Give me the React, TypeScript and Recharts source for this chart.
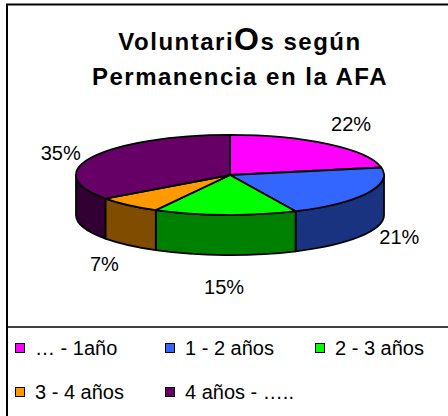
import React from 'react';
import { PieChart, Pie, Legend } from 'recharts';

const categories = ['… - 1año', '1 - 2 años', '2 - 3 años', '3 - 4 años', '4 años - …..'];
const values = [22, 21, 15, 7, 35];
const colors = ['#FF00FF', '#3366FF', '#00FF00', '#FF9900', '#660066'];
const titleLine1 = ['Voluntari', 'O', 's según'];
const titleLine2 = 'Permanencia en la AFA';

const data = categories.map((name, i) => ({ name, value: values[i], fill: colors[i] }));

const FONT = '"Liberation Sans", Arial, sans-serif';
const TILT = 0.26;
const DEPTH = 0.26;

const darken = (hex: string, f = 0.5) => {
  const n = parseInt(hex.slice(1), 16);
  const r = Math.round(((n >> 16) & 255) * f);
  const g = Math.round(((n >> 8) & 255) * f);
  const b = Math.round((n & 255) * f);
  return `rgb(${r},${g},${b})`;
};

const Slice3D = (props: any) => {
  const { cx, cy, outerRadius, startAngle, endAngle, fill } = props;
  const rx = outerRadius;
  const ry = outerRadius * TILT;
  const depth = outerRadius * DEPTH;
  const pt = (deg: number, dy = 0) => {
    const r = (deg * Math.PI) / 180;
    return [cx + rx * Math.cos(r), cy - ry * Math.sin(r) + dy];
  };
  const s = Math.max(startAngle, endAngle);
  const e = Math.min(startAngle, endAngle);
  const p1 = pt(s);
  const p2 = pt(e);
  const large = s - e > 180 ? 1 : 0;
  const top = `M${cx},${cy} L${p1[0]},${p1[1]} A${rx},${ry} 0 ${large} 1 ${p2[0]},${p2[1]} Z`;
  const a = Math.min(s, 0);
  const b = Math.max(e, -180);
  let side: string | null = null;
  if (a > b) {
    const q1 = pt(a);
    const q2 = pt(b);
    const q3 = pt(b, depth);
    const q4 = pt(a, depth);
    side = `M${q1[0]},${q1[1]} A${rx},${ry} 0 0 1 ${q2[0]},${q2[1]} L${q3[0]},${q3[1]} A${rx},${ry} 0 0 0 ${q4[0]},${q4[1]} Z`;
  }
  return (
    <g>
      {side && <path d={side} fill={darken(fill)} stroke="#000" strokeWidth={1.8} strokeLinejoin="round" />}
      <path d={top} fill={fill} stroke="#000" strokeWidth={1.8} strokeLinejoin="round" />
    </g>
  );
};

const renderLabel = (props: any) => {
  const { cx, cy, midAngle, outerRadius, percent } = props;
  const rad = (midAngle * Math.PI) / 180;
  const rx = outerRadius;
  const ry = outerRadius * TILT;
  const depth = outerRadius * DEPTH;
  const x = cx + (rx + 36) * Math.cos(rad);
  const y = cy + depth / 2 - (ry + depth / 2 + 32) * Math.sin(rad);
  return (
    <text x={x} y={y} textAnchor="middle" dominantBaseline="central" fontFamily={FONT} fontSize={20} fill="#000">
      {`${Math.round(percent * 100)}%`}
    </text>
  );
};

const renderLegend = (props: any) => {
  const payload = [...(props.payload || [])].sort(
    (p: any, q: any) => categories.indexOf(p.value) - categories.indexOf(q.value)
  );
  return (
    <div style={{ position: 'relative', width: 448, height: 70, fontFamily: FONT, fontSize: 20 }}>
      {payload.map((p: any, i: number) => {
        const col = i % 3;
        const row = Math.floor(i / 3);
        return (
          <div
            key={i}
            style={{ position: 'absolute', left: 15 + col * 150, top: row * 44, height: 20, display: 'flex', alignItems: 'center', whiteSpace: 'nowrap' }}
          >
            <span style={{ display: 'inline-block', width: 8, height: 8, border: '1px solid #000', background: p.color, marginRight: 10 }} />
            <span style={{ lineHeight: '20px', color: '#000' }}>{p.value}</span>
          </div>
        );
      })}
    </div>
  );
};

export default function App() {
  return (
    <div style={{ position: 'absolute', left: 0, top: 0, width: 448, height: 416, background: '#fff', overflow: 'hidden' }}>
      <PieChart width={448} height={416} margin={{ top: 0, right: 0, bottom: 0, left: 0 }}>
        <Pie
          data={data}
          dataKey="value"
          nameKey="name"
          cx={230}
          cy={175}
          outerRadius={154}
          startAngle={90}
          endAngle={-270}
          isAnimationActive={false}
          shape={Slice3D}
          label={renderLabel}
          labelLine={false}
          stroke="#000"
        />
        <Legend content={renderLegend} wrapperStyle={{ position: 'absolute', left: 0, top: 338, width: 448, height: 70 }} />
      </PieChart>
      <svg width={448} height={416} style={{ position: 'absolute', left: 0, top: 0, pointerEvents: 'none' }}>
        <line x1={6} y1={4.5} x2={448} y2={4.5} stroke="#000" strokeWidth={2} />
        <line x1={7} y1={4} x2={7} y2={416} stroke="#000" strokeWidth={2} />
        <line x1={7} y1={327} x2={448} y2={327} stroke="#000" strokeWidth={1.6} />
        <text x={240} y={50} textAnchor="middle" fontFamily={FONT} fontWeight="bold" fontSize={24} letterSpacing={1.5} fill="#000">
          <tspan>{titleLine1[0]}</tspan>
          <tspan fontSize={32}>{titleLine1[1]}</tspan>
          <tspan>{titleLine1[2]}</tspan>
        </text>
        <text x={240} y={85} textAnchor="middle" fontFamily={FONT} fontWeight="bold" fontSize={24} letterSpacing={1.5} fill="#000">
          {titleLine2}
        </text>
      </svg>
    </div>
  );
}
